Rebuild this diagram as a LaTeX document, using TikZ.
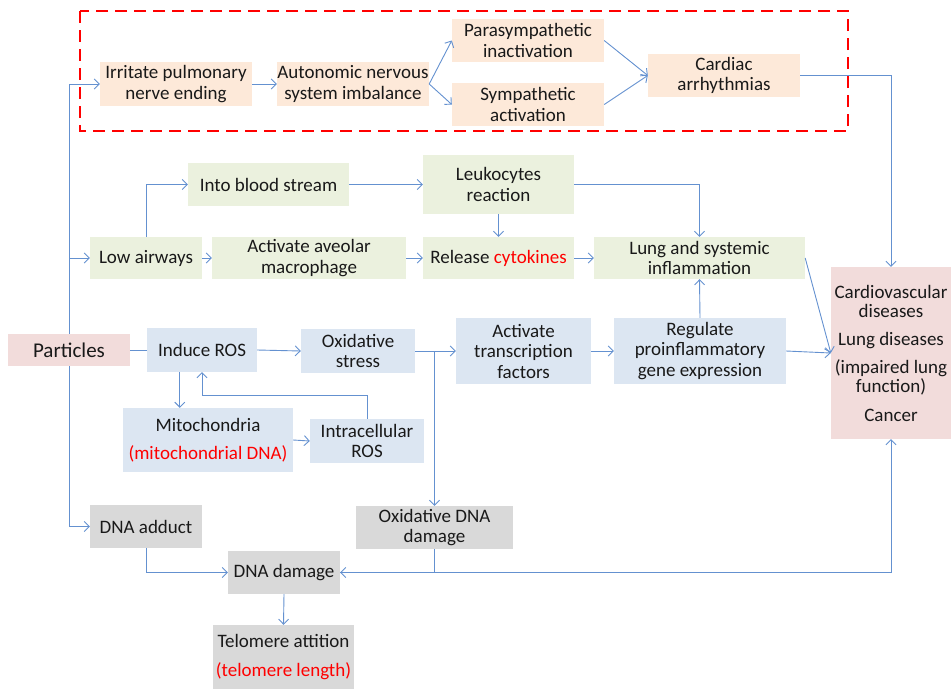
\documentclass[tikz,border=0pt]{standalone}
\usepackage{fontspec}
\setmainfont{Carlito}
\usetikzlibrary{arrows.meta}
\definecolor{peach}{RGB}{253,233,217}
\definecolor{sage}{RGB}{235,241,222}
\definecolor{pale}{RGB}{220,230,242}
\definecolor{rose}{RGB}{242,220,219}
\definecolor{ash}{RGB}{217,217,217}
\definecolor{link}{RGB}{100,145,208}
\tikzstyle{box} = [inner sep=0pt,align=center,text=black!90,font=\fontsize{19}{20.5}\selectfont]
\tikzstyle{peachbox} = [box,fill=peach]
\tikzstyle{sagebox} = [box,fill=sage]
\tikzstyle{palebox} = [box,fill=pale]
\tikzstyle{rosebox} = [box,fill=rose]
\tikzstyle{ashbox} = [box,fill=ash]
\tikzstyle{arrow} = [line width=0.9pt,color=link,-{Straight Barb[length=5pt,width=10pt]}]
\tikzstyle{plain} = [line width=0.9pt,color=link]

\begin{document}
\begin{tikzpicture}[x=1pt,y=-1pt]
	\useasboundingbox (0,0) rectangle (951,689);
	% autonomic pathway
	\draw [red,line width=2.7pt,dash pattern=on 12pt off 7pt] (80,11) rectangle (848,131);
	\node (irritate) at (176,84) [peachbox,minimum width=152,minimum height=44] {Irritate pulmonary\\nerve ending};
	\node (autonomic) at (353,84) [peachbox,minimum width=152,minimum height=44] {Autonomic nervous\\system imbalance};
	\node (para) at (528,40.5) [peachbox,minimum width=152,minimum height=43] {Parasympathetic\\inactivation};
	\node (symp) at (528,104.5) [peachbox,minimum width=152,minimum height=43] {Sympathetic\\activation};
	\node (cardiac) at (724,75.5) [peachbox,minimum width=152,minimum height=43] {Cardiac\\arrhythmias};
	% inflammation pathway
	\node (blood) at (268.5,184.5) [sagebox,minimum width=161,minimum height=43] {Into blood stream};
	\node (leuko) at (498.5,184.5) [sagebox,minimum width=151,minimum height=59] {Leukocytes\\reaction};
	\node (low) at (146,258) [sagebox,minimum width=112,minimum height=42] {Low airways};
	\node (macro) at (309,258) [sagebox,minimum width=194,minimum height=42] {Activate aveolar\\macrophage};
	\node (release) at (498.5,258) [sagebox,minimum width=151,minimum height=42] {Release \textcolor{red}{cytokines}};
	\node (lung) at (699.5,258) [sagebox,minimum width=211,minimum height=42] {Lung and systemic\\inflammation};
	% oxidative stress pathway
	\node (particles) at (69,350) [rosebox,minimum width=122,minimum height=32] {\fontsize{21}{22}\selectfont Particles};
	\node (ros) at (202,350) [palebox,minimum width=110,minimum height=44] {Induce ROS};
	\node (oxstress) at (358,351) [palebox,minimum width=114,minimum height=44] {Oxidative\\stress};
	\node (transcr) at (523.5,351) [palebox,minimum width=135,minimum height=66] {Activate\\transcription\\factors};
	\node (regulate) at (700,351) [palebox,minimum width=172,minimum height=66] {Regulate\\proinflammatory\\gene expression};
	\node (mito) at (208,440) [palebox,minimum width=170,minimum height=64] {Mitochondria\\[8pt]\textcolor{red}{(mitochondrial DNA)}};
	\node (intra) at (367,441) [palebox,minimum width=114,minimum height=44] {Intracellular\\ROS};
	\node (cardio) at (891,353) [rosebox,minimum width=120,minimum height=172,font=\fontsize{19}{19}\selectfont] {Cardiovascular\\diseases\\[9pt]Lung diseases\\[9pt](impaired lung\\function)\\[10pt]Cancer};
	% DNA damage pathway
	\node (adduct) at (146,526.5) [ashbox,minimum width=112,minimum height=43] {DNA adduct};
	\node (oxdna) at (434.5,527.5) [ashbox,minimum width=157,minimum height=43] {Oxidative DNA\\damage};
	\node (dnadmg) at (284,572.5) [ashbox,minimum width=112,minimum height=43] {DNA damage};
	\node (telo) at (283.5,657) [ashbox,minimum width=141,minimum height=64] {Telomere attition\\[9pt]\textcolor{red}{(telomere length)}};
	% connectors
	\draw [arrow] (particles.north) |- (irritate.west);
	\draw [arrow] (particles.north) |- (low.west);
	\draw [arrow] (particles.south) |- (adduct.west);
	\draw [plain] (particles.east) -- (ros.west);
	\draw [arrow] (irritate.east) -- (autonomic.west);
	\draw [arrow] (autonomic.east) -- (para.west);
	\draw [arrow] (autonomic.east) -- (symp.west);
	\draw [arrow] (para.east) -- (cardiac.west);
	\draw [arrow] (symp.east) -- (cardiac.west);
	\draw [arrow] (cardiac.east) -| (cardio.north);
	\draw [arrow] (low.north) |- (blood.west);
	\draw [arrow] (blood.east) -- (leuko.west);
	\draw [arrow] (leuko.east) -| (lung.north);
	\draw [arrow] (leuko.south) -- (release.north);
	\draw [arrow] (low.east) -- (macro.west);
	\draw [arrow] (macro.east) -- (release.west);
	\draw [arrow] (release.east) -- (lung.west);
	\draw [arrow] (lung.east) -- (cardio.west);
	\draw [arrow] (ros.east) -- (oxstress.west);
	\draw [arrow] (oxstress.east) -- (transcr.west);
	\draw [arrow] (oxstress.east) -| (oxdna.north);
	\draw [arrow] (transcr.east) -- (regulate.west);
	\draw [arrow] (regulate.north) -- (lung.south);
	\draw [arrow] (regulate.east) -- (cardio.west);
	\draw [arrow] (ros.-135) -- (ros.-135 |- mito.north);
	\draw [arrow] (mito.east) -- (intra.west);
	\draw [arrow] (intra.north) -- ++(0,-23) -| (ros.south);
	\draw [arrow] (adduct.south) |- (dnadmg.west);
	\draw [arrow] (oxdna.south) |- (dnadmg.east);
	\draw [arrow] (dnadmg.east) -| (cardio.south);
	\draw [arrow] (dnadmg.south) -- (telo.north);
\end{tikzpicture}
\end{document}
